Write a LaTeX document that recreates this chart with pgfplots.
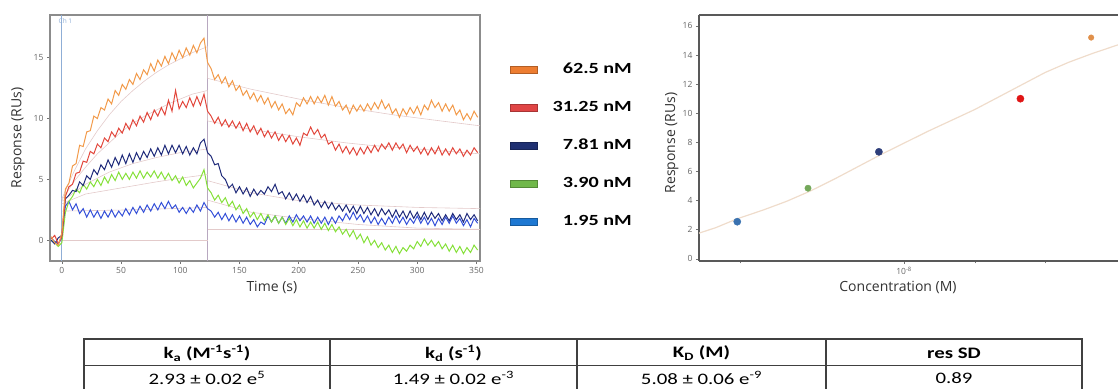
\documentclass[border=0pt]{standalone}
\usepackage{fontspec}
\setmainfont{Open Sans}
\newfontfamily\tabfont{Carlito}
\usepackage{pgfplots}
\pgfplotsset{compat=1.18}
\definecolor{cO}{HTML}{F29A4A}
\definecolor{cR}{HTML}{E2473C}
\definecolor{cN}{HTML}{1F2A7A}
\definecolor{cG}{HTML}{86E03A}
\definecolor{cB}{HTML}{3550D8}
\definecolor{lO}{HTML}{ED7D31}
\definecolor{lR}{HTML}{E04545}
\definecolor{lN}{HTML}{1F3072}
\definecolor{lG}{HTML}{70B84A}
\definecolor{lB}{HTML}{1E78D2}
\definecolor{fitc}{HTML}{E3CACA}
\definecolor{pB}{HTML}{3A72B0}
\definecolor{pG}{HTML}{74A85A}
\definecolor{pN}{HTML}{2E3E7A}
\definecolor{pR}{HTML}{E01515}
\definecolor{pO}{HTML}{E0904A}
\definecolor{curv}{HTML}{EFDCCB}
\definecolor{chb}{HTML}{8FAED6}
\definecolor{vl}{HTML}{B8A8C0}
\definecolor{tabline}{HTML}{404040}
\begin{document}
\begin{tikzpicture}
\useasboundingbox (0,0) rectangle (1118pt,388pt);
% ---------------- left: sensorgram ----------------
\begin{axis}[
  at={(50pt,127pt)}, anchor=south west, scale only axis,
  width=430pt, height=246pt,
  xmin=-10, xmax=353, ymin=-1.7, ymax=18.5,
  xtick={0,50,...,350}, ytick={0,5,10,15},
  xtick pos=left, ytick pos=left, tick align=outside,
  major tick length=3pt,
  axis line style={draw=black!45, line width=1.2pt},
  tick style={draw=black!55, line width=0.6pt},
  /pgf/number format/assume math mode=true,
  tick label style={font=\fontsize{8.5}{10}\selectfont, text=black!60},
  xlabel={Time (s)}, ylabel={Response (RUs)},
  label style={font=\fontsize{14}{16}\selectfont, text=black!80},
  xlabel style={at={(axis description cs:0.516,-0.1057)}, anchor=center},
  ylabel style={at={(axis description cs:-0.074,0.5)}, anchor=center},
  legend image code/.code={\draw[#1] (0pt,-3.5pt) rectangle (27pt,3.5pt);},
  legend cell align=right,
  legend style={at={(axis description cs:1.0698,0.8016)}, anchor=north west,
    draw=none, fill=none, inner sep=0pt, outer sep=0pt,
    row sep=27pt, column sep=15pt,
    font=\tabfont\bfseries\fontsize{15.5}{17}\selectfont,
    nodes={inner sep=0pt, text height=9.5pt, text depth=1.5pt}},
]
% reference lines
\addplot[forget plot, chb, line width=0.8pt] coordinates {(0,-1.7) (0,18.5)};
\addplot[forget plot, vl, line width=0.8pt] coordinates {(123,-1.7) (123,18.5)};
\addplot[forget plot, fitc, line width=0.6pt] coordinates {(0,0) (123,0)};
\addplot[forget plot, fitc, line width=0.6pt] coordinates {(123,0.9) (353,0.9)};
% fits
\addplot[forget plot, fitc, line width=0.6pt] coordinates {(0,3.4)(10,5.6)(20,7.5)(30,9.0)(40,10.3)(50,11.4)(60,12.3)(70,13.1)(80,13.8)(90,14.4)(100,14.9)(110,15.4)(123,15.9)};
\addplot[forget plot, fitc, line width=0.6pt] coordinates {(123,15.9)(123,13.3)(160,12.4)(200,11.6)(240,10.9)(280,10.3)(320,9.8)(353,9.4)};
\addplot[forget plot, fitc, line width=0.6pt] coordinates {(0,3.3)(10,4.8)(20,6.0)(30,7.1)(40,8.0)(50,8.9)(60,9.6)(70,10.2)(80,10.7)(90,11.2)(100,11.6)(110,12.0)(123,12.3)};
\addplot[forget plot, fitc, line width=0.6pt] coordinates {(123,12.3)(123,9.8)(160,9.1)(200,8.5)(240,8.0)(260,7.8)(300,7.5)(353,7.1)};
\addplot[forget plot, fitc, line width=0.6pt] coordinates {(0,3.2)(20,4.6)(40,5.6)(60,6.3)(80,6.8)(100,7.2)(123,7.5)};
\addplot[forget plot, fitc, line width=0.6pt] coordinates {(123,4.9)(160,3.9)(200,3.25)(250,2.9)(300,2.7)(353,2.6)};
\addplot[forget plot, fitc, line width=0.6pt] coordinates {(0,3.0)(20,3.8)(50,4.3)(80,4.8)(100,5.1)(123,5.4)};
\addplot[forget plot, fitc, line width=0.6pt] coordinates {(123,3.3)(160,2.3)(200,1.8)(250,1.3)(300,1.0)(353,0.9)};
\addplot[forget plot, fitc, line width=0.6pt] coordinates {(0,2.4)(60,2.5)(123,2.7)};
% 1.95 nM
\addplot[forget plot, cB, line width=1pt] table[row sep=\\] {
t r\\ -9 0.2\\ -6 -0.1\\ -3 -0.3\\ 0 0.2\\ 3 2.8\\ 6 3.2\\ 9 2.5\\ 12 3.0\\ 15 2.2\\ 18 2.6\\
21 1.9\\ 24 2.5\\ 27 1.9\\ 30 2.4\\ 33 1.8\\ 36 2.4\\ 39 1.9\\ 42 2.5\\ 45 1.9\\ 48 2.4\\
51 2.0\\ 54 2.6\\ 57 2.1\\ 60 2.7\\ 63 2.2\\ 66 2.8\\ 69 2.3\\ 72 2.9\\ 75 2.4\\ 78 3.0\\
81 2.5\\ 84 3.1\\ 87 2.6\\ 90 3.2\\ 93 2.6\\ 96 2.9\\ 99 2.3\\ 102 2.7\\ 105 2.2\\ 108 2.7\\
111 2.3\\ 114 2.9\\ 117 2.4\\ 120 3.1\\ 123 2.6\\ 126 2.4\\ 129 1.9\\ 132 2.3\\ 135 1.7\\ 138 2.2\\
141 1.6\\ 144 2.1\\ 147 1.5\\ 150 2.0\\ 153 1.4\\ 156 1.9\\ 159 1.3\\ 162 1.7\\ 165 1.1\\ 168 1.5\\
171 1.3\\ 174 2.0\\ 177 1.5\\ 180 2.0\\ 183 1.4\\ 186 1.9\\ 189 1.4\\ 192 2.0\\ 195 1.5\\ 198 2.1\\
201 1.6\\ 204 2.0\\ 207 1.5\\ 210 2.0\\ 213 1.4\\ 216 1.9\\ 219 1.4\\ 222 1.9\\ 225 1.3\\ 228 1.9\\
231 1.4\\ 234 2.0\\ 237 1.6\\ 240 2.2\\ 243 1.7\\ 246 2.3\\ 249 1.7\\ 252 2.1\\ 255 1.5\\ 258 2.0\\
261 1.4\\ 264 1.9\\ 267 1.3\\ 270 1.8\\ 273 1.3\\ 276 1.9\\ 279 1.4\\ 282 2.0\\ 285 1.4\\ 288 1.9\\
291 1.3\\ 294 1.8\\ 297 1.4\\ 300 2.0\\ 303 1.4\\ 306 1.9\\ 309 1.3\\ 312 1.8\\ 315 1.2\\ 318 1.8\\
321 1.3\\ 324 1.9\\ 327 1.4\\ 330 2.0\\ 333 1.4\\ 336 1.8\\ 339 1.2\\ 342 1.7\\ 345 1.1\\ 348 1.8\\ 351 1.4\\
};
% 3.90 nM
\addplot[forget plot, cG, line width=1pt] table[row sep=\\] {
t r\\ -9 0.0\\ -6 -0.2\\ -3 -0.5\\ 0 -0.2\\ 3 2.3\\ 6 3.2\\ 9 3.6\\ 12 4.2\\ 15 3.9\\ 18 4.6\\
21 4.2\\ 24 4.8\\ 27 4.4\\ 30 5.0\\ 33 4.5\\ 36 5.2\\ 39 4.7\\ 42 5.4\\ 45 4.9\\ 48 5.6\\
51 5.0\\ 54 5.5\\ 57 5.0\\ 60 5.6\\ 63 5.1\\ 66 5.7\\ 69 5.1\\ 72 5.6\\ 75 5.2\\ 78 5.7\\
81 5.1\\ 84 5.6\\ 87 5.0\\ 90 5.5\\ 93 4.9\\ 96 5.3\\ 99 4.7\\ 102 5.2\\ 105 4.5\\ 108 4.9\\
111 4.3\\ 114 4.7\\ 117 5.1\\ 120 5.8\\ 123 4.3\\ 126 3.9\\ 129 3.3\\ 132 3.7\\ 135 3.1\\ 138 3.5\\
141 2.8\\ 144 3.2\\ 147 2.5\\ 150 2.9\\ 153 2.2\\ 156 2.6\\ 159 1.9\\ 162 2.3\\ 165 1.7\\ 168 2.2\\
171 1.6\\ 174 2.1\\ 177 1.5\\ 180 2.0\\ 183 1.4\\ 186 1.9\\ 189 1.3\\ 192 1.8\\ 195 1.2\\ 198 1.7\\
201 1.1\\ 204 1.6\\ 207 1.0\\ 210 1.5\\ 213 1.0\\ 216 1.5\\ 219 0.9\\ 222 1.4\\ 225 0.8\\ 228 1.3\\
231 0.7\\ 234 1.1\\ 237 0.5\\ 240 0.9\\ 243 0.3\\ 246 0.8\\ 249 0.1\\ 252 0.5\\ 255 -0.2\\ 258 0.3\\
261 -0.4\\ 264 0.0\\ 267 -0.6\\ 270 -0.2\\ 273 -0.8\\ 276 -0.4\\ 279 -1.0\\ 282 -0.5\\ 285 -1.1\\ 288 -0.6\\
291 -0.9\\ 294 -0.4\\ 297 -0.7\\ 300 -0.1\\ 303 -0.5\\ 306 0.1\\ 309 -0.4\\ 312 0.0\\ 315 -0.5\\ 318 -0.1\\
321 -0.7\\ 324 -0.3\\ 327 -0.9\\ 330 -0.4\\ 333 -1.0\\ 336 -0.5\\ 339 -1.1\\ 342 -0.6\\ 345 -1.0\\ 348 -0.4\\ 351 -0.8\\
};
% 7.81 nM
\addplot[forget plot, cN, line width=1pt] table[row sep=\\] {
t r\\ -9 0.0\\ -6 -0.3\\ -3 0.2\\ 0 0.4\\ 3 3.4\\ 6 3.7\\ 9 4.1\\ 12 4.0\\ 15 4.8\\ 18 4.5\\
21 5.3\\ 24 5.0\\ 27 5.8\\ 30 5.4\\ 33 6.2\\ 36 5.8\\ 39 6.6\\ 42 6.0\\ 45 6.8\\ 48 6.2\\
51 7.0\\ 54 6.3\\ 57 7.1\\ 60 6.4\\ 63 7.2\\ 66 6.6\\ 69 7.3\\ 72 6.8\\ 75 7.5\\ 78 6.9\\
81 7.6\\ 84 7.0\\ 87 7.8\\ 90 7.1\\ 93 7.8\\ 96 7.2\\ 99 7.8\\ 102 7.1\\ 105 7.7\\ 108 7.0\\
111 7.6\\ 114 7.1\\ 117 8.0\\ 120 8.3\\ 123 7.2\\ 126 6.9\\ 129 6.2\\ 132 6.3\\ 135 5.3\\ 138 5.0\\
141 4.3\\ 144 4.6\\ 147 3.9\\ 150 4.4\\ 153 3.8\\ 156 4.3\\ 159 3.6\\ 162 4.2\\ 165 3.7\\ 168 4.1\\
171 3.8\\ 174 4.4\\ 177 4.0\\ 180 4.6\\ 183 3.8\\ 186 4.0\\ 189 3.4\\ 192 3.9\\ 195 3.3\\ 198 3.8\\
201 3.2\\ 204 3.7\\ 207 3.1\\ 210 3.6\\ 213 2.9\\ 216 3.3\\ 219 2.7\\ 222 3.2\\ 225 2.6\\ 228 3.1\\
231 2.5\\ 234 2.9\\ 237 2.4\\ 240 2.9\\ 243 2.3\\ 246 2.8\\ 249 2.2\\ 252 2.8\\ 255 2.2\\ 258 2.7\\
261 2.1\\ 264 2.6\\ 267 2.0\\ 270 2.6\\ 273 2.1\\ 276 2.5\\ 279 1.9\\ 282 2.5\\ 285 1.9\\ 288 2.4\\
291 1.8\\ 294 2.4\\ 297 1.8\\ 300 2.3\\ 303 1.7\\ 306 2.3\\ 309 1.7\\ 312 2.3\\ 315 1.8\\ 318 2.2\\
321 1.6\\ 324 2.1\\ 327 1.6\\ 330 2.2\\ 333 1.7\\ 336 2.1\\ 339 1.5\\ 342 2.2\\ 345 1.7\\ 348 2.1\\ 351 1.6\\
};
% 31.25 nM
\addplot[forget plot, cR, line width=1pt] table[row sep=\\] {
t r\\ -9 0.1\\ -6 0.4\\ -3 -0.3\\ 0 0.3\\ 3 3.6\\ 6 4.4\\ 9 4.6\\ 12 5.5\\ 15 5.6\\ 18 6.5\\
21 6.4\\ 24 7.3\\ 27 7.1\\ 30 7.9\\ 33 7.6\\ 36 8.4\\ 39 8.1\\ 42 8.9\\ 45 8.5\\ 48 9.2\\
51 8.8\\ 54 9.6\\ 57 9.1\\ 60 9.9\\ 63 9.4\\ 66 10.2\\ 69 9.7\\ 72 10.5\\ 75 9.9\\ 78 10.7\\
81 10.2\\ 84 10.9\\ 87 10.3\\ 90 11.5\\ 93 10.6\\ 96 12.3\\ 99 10.8\\ 102 11.4\\ 105 10.9\\ 108 11.7\\
111 11.0\\ 114 11.8\\ 117 11.1\\ 120 12.0\\ 123 10.6\\ 126 10.2\\ 129 9.6\\ 132 10.1\\ 135 9.4\\ 138 9.9\\
141 9.3\\ 144 9.8\\ 147 9.2\\ 150 9.7\\ 153 9.0\\ 156 9.6\\ 159 8.9\\ 162 9.4\\ 165 8.7\\ 168 9.2\\
171 8.5\\ 174 9.0\\ 177 8.4\\ 180 8.9\\ 183 8.2\\ 186 8.7\\ 189 8.1\\ 192 8.6\\ 195 7.9\\ 198 8.4\\
201 7.8\\ 204 8.8\\ 207 8.6\\ 210 9.3\\ 213 8.7\\ 216 9.1\\ 219 8.4\\ 222 8.7\\ 225 7.9\\ 228 8.1\\
231 7.4\\ 234 7.9\\ 237 7.2\\ 240 7.7\\ 243 7.1\\ 246 7.6\\ 249 7.0\\ 252 7.6\\ 255 7.1\\ 258 7.7\\
261 7.2\\ 264 7.8\\ 267 7.3\\ 270 7.9\\ 273 7.5\\ 276 8.0\\ 279 7.4\\ 282 8.0\\ 285 7.5\\ 288 7.9\\
291 7.2\\ 294 7.8\\ 297 7.3\\ 300 7.7\\ 303 7.1\\ 306 7.6\\ 309 7.0\\ 312 7.6\\ 315 7.1\\ 318 7.7\\
321 7.0\\ 324 7.5\\ 327 7.0\\ 330 7.6\\ 333 7.1\\ 336 7.5\\ 339 6.9\\ 342 7.4\\ 345 7.0\\ 348 7.6\\ 351 7.2\\
};
% 62.5 nM
\addplot[forget plot, cO, line width=1pt] table[row sep=\\] {
t r\\ -9 0.3\\ -6 -0.2\\ -3 -0.4\\ 0 0.6\\ 3 4.2\\ 6 4.7\\ 9 6.1\\ 12 6.3\\ 15 7.8\\ 18 7.7\\
21 8.9\\ 24 9.0\\ 27 10.2\\ 30 10.0\\ 33 10.9\\ 36 10.7\\ 39 11.6\\ 42 11.2\\ 45 12.3\\ 48 11.9\\
51 12.8\\ 54 12.4\\ 57 13.2\\ 60 12.8\\ 63 13.7\\ 66 13.2\\ 69 14.0\\ 72 13.6\\ 75 14.5\\ 78 13.9\\
81 14.8\\ 84 14.3\\ 87 15.1\\ 90 14.5\\ 93 15.4\\ 96 14.8\\ 99 15.6\\ 102 15.0\\ 105 15.8\\ 108 15.2\\
111 16.0\\ 114 15.4\\ 117 16.2\\ 120 16.6\\ 123 14.6\\ 126 14.1\\ 129 13.2\\ 132 13.6\\ 135 12.9\\ 138 13.4\\
141 12.6\\ 144 13.1\\ 147 12.3\\ 150 12.7\\ 153 11.9\\ 156 12.3\\ 159 11.6\\ 162 12.1\\ 165 11.4\\ 168 11.9\\
171 11.2\\ 174 11.7\\ 177 10.9\\ 180 11.4\\ 183 10.7\\ 186 11.2\\ 189 10.4\\ 192 10.8\\ 195 10.3\\ 198 11.3\\
201 11.0\\ 204 11.7\\ 207 11.2\\ 210 11.8\\ 213 11.2\\ 216 11.8\\ 219 11.3\\ 222 11.9\\ 225 11.1\\ 228 11.8\\
231 11.0\\ 234 11.4\\ 237 10.7\\ 240 11.1\\ 243 10.4\\ 246 11.1\\ 249 10.6\\ 252 11.1\\ 255 10.6\\ 258 11.2\\
261 10.7\\ 264 11.3\\ 267 10.8\\ 270 11.5\\ 273 10.8\\ 276 11.2\\ 279 10.4\\ 282 10.8\\ 285 10.1\\ 288 10.8\\
291 10.3\\ 294 10.9\\ 297 10.4\\ 300 11.0\\ 303 10.3\\ 306 11.1\\ 309 10.7\\ 312 11.5\\ 315 10.9\\ 318 11.3\\
321 10.6\\ 324 11.2\\ 327 10.6\\ 330 11.1\\ 333 10.3\\ 336 10.7\\ 339 9.9\\ 342 10.4\\ 345 9.9\\ 348 10.6\\ 351 10.1\\
};
\node[font=\fontsize{6.5}{7}\selectfont, text=chb] at (axis cs:3,18.0) {Ch 1};
% legend
\addlegendimage{fill=lO, draw=lO!75!black, line width=0.6pt}
\addlegendentry{\scalebox{1.3}[1]{62.5 nM}}
\addlegendimage{fill=lR, draw=lR!75!black, line width=0.6pt}
\addlegendentry{\scalebox{1.3}[1]{31.25 nM}}
\addlegendimage{fill=lN, draw=lN!75!black, line width=0.6pt}
\addlegendentry{\scalebox{1.3}[1]{7.81 nM}}
\addlegendimage{fill=lG, draw=lG!75!black, line width=0.6pt}
\addlegendentry{\scalebox{1.3}[1]{3.90 nM}}
\addlegendimage{fill=lB, draw=lB!75!black, line width=0.6pt}
\addlegendentry{\scalebox{1.3}[1]{1.95 nM}}
\end{axis}
% ---------------- right: steady state ----------------
\begin{axis}[
  at={(699pt,127pt)}, anchor=south west, scale only axis,
  width=419pt, height=246pt,
  xmode=log, xmin=1.34e-9, xmax=8.128e-8, ymin=-0.15, ymax=16.75,
  axis x line*=box, axis y line*=left,
  xtick={1e-8}, xticklabels={10\textsuperscript{-8}},
  minor xtick={2e-9,2e-8,4e-8},
  ytick={0,2,...,16},
  xtick pos=left, ytick pos=left, tick align=outside,
  major tick length=3pt, minor tick length=2.5pt,
  axis line style={draw=black!65, line width=1.6pt},
  tick style={draw=black!55, line width=0.6pt},
  /pgf/number format/assume math mode=true,
  tick label style={font=\fontsize{8.5}{10}\selectfont, text=black!60},
  xlabel={Concentration (M)}, ylabel={Response (RUs)},
  label style={font=\fontsize{14}{16}\selectfont, text=black!80},
  xlabel style={at={(axis description cs:0.475,-0.1057)}, anchor=center},
  ylabel style={at={(axis description cs:-0.065,0.48)}, anchor=center},
]
\addplot[curv, line width=1.2pt] coordinates {
(1.340e-9,1.76) (1.585e-9,2.15) (1.950e-9,2.75) (2.512e-9,3.35) (3.162e-9,3.95)
(3.981e-9,4.65) (5.012e-9,5.45) (6.310e-9,6.3) (7.943e-9,7.15) (1e-8,7.95)
(1.259e-8,8.75) (1.585e-8,9.5) (1.995e-8,10.25) (2.512e-8,11.1) (3.162e-8,11.95)
(3.981e-8,12.8) (5.012e-8,13.5) (6.310e-8,14.1) (8.128e-8,14.7)};
\addplot[only marks, mark=*, mark size=3.6pt, pB] coordinates {(1.95e-9,2.55)};
\addplot[only marks, mark=*, mark size=3.2pt, pG] coordinates {(3.9e-9,4.85)};
\addplot[only marks, mark=*, mark size=3.6pt, pN] coordinates {(7.81e-9,7.35)};
\addplot[only marks, mark=*, mark size=3.6pt, pR] coordinates {(31.25e-9,11.0)};
\addplot[only marks, mark=*, mark size=2.8pt, pO] coordinates {(62.5e-9,15.2)};
\end{axis}
% ---------------- table ----------------
\draw[tabline, line width=1.8pt] (84pt,49pt) -- (1082pt,49pt);
\draw[tabline, line width=1.3pt] (84pt,22.3pt) -- (1082pt,22.3pt);
\foreach \xx in {84,330,577,826,1082} {\draw[tabline, line width=1.3pt] (\xx pt,49.9pt) -- (\xx pt,-2pt);}
\begin{scope}[every node/.style={font=\tabfont\bfseries\fontsize{16}{18}\selectfont, text=black, inner sep=0pt}]
\node at (207pt,35pt) {\scalebox{1.3}[1]{k\textsubscript{a} (M\textsuperscript{-1}s\textsuperscript{-1})}};
\node at (453.5pt,35pt) {\scalebox{1.3}[1]{k\textsubscript{d} (s\textsuperscript{-1})}};
\node at (701.5pt,35pt) {\scalebox{1.3}[1]{K\textsubscript{D} (M)}};
\node at (954pt,35pt) {\scalebox{1.3}[1]{res SD}};
\end{scope}
\begin{scope}[every node/.style={font=\tabfont\fontsize{16}{18}\selectfont, text=black, inner sep=0pt}]
\node at (207pt,10pt) {\scalebox{1.3}[1]{2.93 ± 0.02 e\textsuperscript{5}}};
\node at (453.5pt,10pt) {\scalebox{1.3}[1]{1.49 ± 0.02 e\textsuperscript{-3}}};
\node at (701.5pt,10pt) {\scalebox{1.3}[1]{5.08 ± 0.06 e\textsuperscript{-9}}};
\node at (954pt,10pt) {\scalebox{1.3}[1]{0.89}};
\end{scope}
\end{tikzpicture}
\end{document}
